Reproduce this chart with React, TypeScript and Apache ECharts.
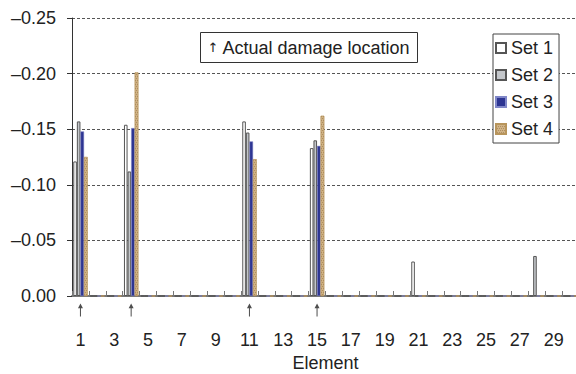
import React, { useEffect, useRef } from "react";
import * as echarts from "echarts";

const elements = Array.from({ length: 30 }, (_, i) => String(i + 1));

// values per element 1..30
const set1 = [-0.121, 0, 0, -0.154, 0, 0, 0, 0, 0, 0, -0.157, 0, 0, 0, -0.133, 0, 0, 0, 0, 0, -0.031, 0, 0, 0, 0, 0, 0, 0, 0, 0];
const set2 = [-0.157, 0, 0, -0.112, 0, 0, 0, 0, 0, 0, -0.147, 0, 0, 0, -0.14, 0, 0, 0, 0, 0, 0, 0, 0, 0, 0, 0, 0, -0.036, 0, 0];
const set3 = [-0.148, 0, 0, -0.151, 0, 0, 0, 0, 0, 0, -0.139, 0, 0, 0, -0.135, 0, 0, 0, 0, 0, 0, 0, 0, 0, 0, 0, 0, 0, 0, 0];
const set4 = [-0.125, 0, 0, -0.201, 0, 0, 0, 0, 0, 0, -0.123, 0, 0, 0, -0.162, 0, 0, 0, 0, 0, 0, 0, 0, 0, 0, 0, 0, 0, 0, 0];

const damageLocations = [1, 4, 11, 15];
const seriesNames = ["Set 1", "Set 2", "Set 3", "Set 4"];

const FONT = "'Liberation Sans', Arial, Helvetica, sans-serif";

export default function App() {
  const ref = useRef<HTMLDivElement>(null);
  useEffect(() => {
    if (!ref.current) return;
    const chart = echarts.init(ref.current, null, { renderer: "svg" });
    const barBase = { type: "bar" as const, barGap: "0%", barCategoryGap: "15%" };
    chart.setOption({
      animation: false,
      backgroundColor: "#fff",
      textStyle: { fontFamily: FONT },
      grid: { left: 72, right: -3, top: 18, bottom: 78, containLabel: false, outerBoundsMode: "none" },
      legend: {
        data: seriesNames,
        orient: "vertical",
        left: 493,
        top: 34,
        backgroundColor: "#fff",
        borderColor: "#444",
        borderWidth: 1,
        borderRadius: 0,
        padding: [4, 6, 4, 2],
        itemGap: 7,
        itemWidth: 10,
        itemHeight: 10,
        icon: "rect",
        textStyle: { fontSize: 18, color: "#222", fontFamily: FONT, lineHeight: 20 },
      },
      xAxis: {
        type: "category",
        data: elements,
        name: "Element",
        nameLocation: "middle",
        nameGap: 58,
        nameTextStyle: { fontSize: 18, color: "#222", fontFamily: FONT },
        axisLine: { lineStyle: { color: "#777", width: 2 } },
        axisTick: { show: true, inside: true, length: 5, interval: 0, lineStyle: { color: "#777" } },
        axisLabel: { interval: 1, fontSize: 18, color: "#222", margin: 35, fontFamily: FONT },
        splitLine: { show: false },
      },
      yAxis: {
        type: "value",
        min: -0.25,
        max: 0,
        interval: 0.05,
        inverse: true,
        axisLine: { show: true, lineStyle: { color: "#333", width: 1 } },
        axisTick: { show: true, length: 5, lineStyle: { color: "#333" } },
        axisLabel: {
          fontSize: 18,
          color: "#222",
          margin: 16,
          fontFamily: FONT,
          formatter: (v: number) => (Math.abs(v) < 1e-9 ? "0.00" : "\u2013" + Math.abs(v).toFixed(2)),
        },
        splitLine: { show: true, lineStyle: { color: "#555", type: [3, 2], width: 1 } },
      },
      series: [
        { ...barBase, name: "Set 1", data: set1, itemStyle: { color: "#ffffff", borderColor: "#555", borderWidth: 1 } },
        { ...barBase, name: "Set 2", data: set2, itemStyle: { color: "#c3c6ca", borderColor: "#555", borderWidth: 1 } },
        { ...barBase, name: "Set 3", data: set3, itemStyle: { color: "#2d3592", borderColor: "#8087c8", borderWidth: 0.5 } },
        {
          ...barBase,
          name: "Set 4",
          data: set4,
          itemStyle: {
            color: "#d0b386",
            borderColor: "#b8955c",
            borderWidth: 0.5,
            decal: {
              symbol: "rect",
              symbolSize: 0.8,
              color: "rgba(130,95,50,0.55)",
              dashArrayX: [[1, 1], [0, 1, 1, 0]],
              dashArrayY: [1, 1],
              rotation: 0,
            },
          },
        },
        {
          type: "scatter",
          name: "arrows",
          clip: false,
          silent: true,
          data: damageLocations.map((e) => [e - 1, 0]),
          symbol: "path://M5,0 L8,5 L5.6,5 L5.6,14 L4.4,14 L4.4,5 L2,5 Z",
          symbolSize: [5, 13],
          symbolOffset: [0, 14],
          itemStyle: { color: "#222" },
          z: 5,
        },
      ],
      graphic: [
        {
          type: "group",
          left: 200,
          top: 32,
          children: [
            {
              type: "rect",
              shape: { x: 0, y: 0, width: 217, height: 30 },
              style: { fill: "#fff", stroke: "#333", lineWidth: 1 },
            },
            {
              type: "text",
              x: 7,
              y: 15,
              style: {
                text: "{a|\u2191} Actual damage location",
                font: `18px ${FONT}`,
                fill: "#222",
                verticalAlign: "middle",
                align: "left",
                rich: {
                  a: { fontFamily: "'DejaVu Sans'", fontSize: 13, fill: "#222", fontWeight: "normal" },
                },
              },
            },
          ],
        },
      ],
    });
    return () => chart.dispose();
  }, []);
  return <div ref={ref} style={{ position: "fixed", left: 0, top: 0, width: 576, height: 374 }} />;
}
